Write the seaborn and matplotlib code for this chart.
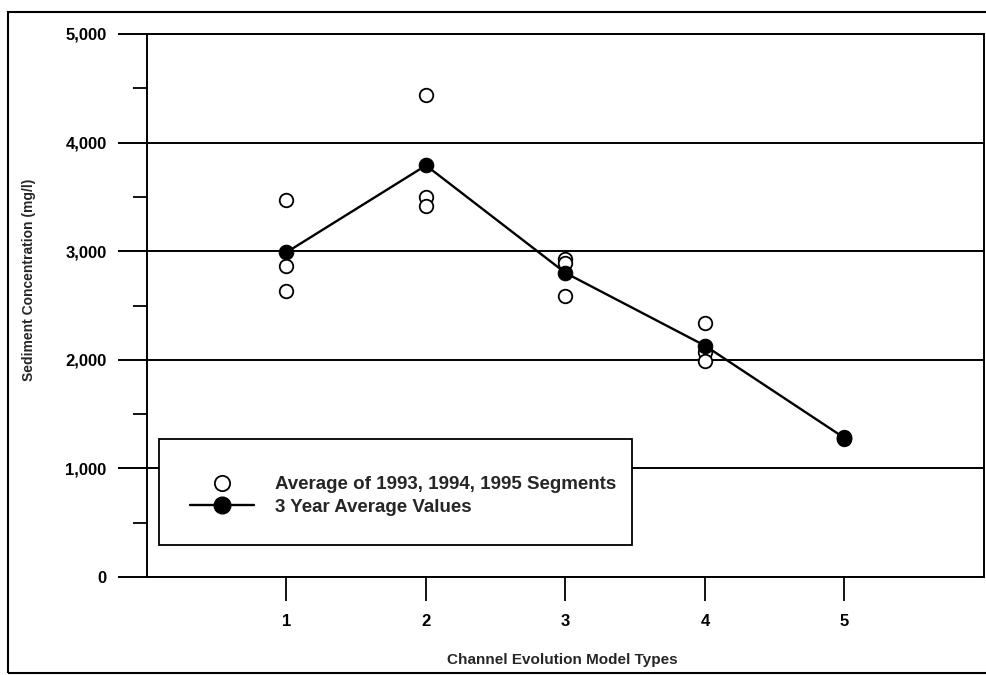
import matplotlib
matplotlib.use("Agg")
import matplotlib.pyplot as plt
import pandas as pd
import seaborn as sns
from matplotlib.ticker import MultipleLocator, FuncFormatter, FixedLocator
from matplotlib.lines import Line2D
from matplotlib.patches import Rectangle

# Channel Evolution Model types and sediment concentrations (mg/l)
cem_types = [1, 2, 3, 4, 5]
seg_high = [3470, 4440, 2930, 2340, 1290]
seg_mid = [2860, 3500, 2890, 2070, 1280]
seg_low = [2630, 3420, 2590, 1990, 1270]
three_year_avg = [2990, 3790, 2800, 2130, 1280]

y_ticks = [0, 1000, 2000, 3000, 4000, 5000]
legend_labels = ["Average of 1993, 1994, 1995 Segments", "3 Year Average Values"]

seg_df = pd.DataFrame({
    "type": cem_types * 3,
    "conc": seg_high + seg_mid + seg_low,
})
avg_df = pd.DataFrame({"type": cem_types, "conc": three_year_avg})

sns.set_style("white")
plt.rcParams["font.family"] = ["Liberation Sans", "DejaVu Sans"]
plt.rcParams["font.weight"] = "bold"

W, H = 987, 675
fig = plt.figure(figsize=(W / 100, H / 100), dpi=100)
fig.patch.set_facecolor("white")

ax_l, ax_r, ax_t, ax_b = 147, 984, 34, 577
ax = fig.add_axes([ax_l / W, 1 - ax_b / H, (ax_r - ax_l) / W, (ax_b - ax_t) / H])
ax.set_facecolor("white")

# horizontal grid at every 1,000 mg/l
ax.yaxis.grid(True, color="black", linewidth=1.4)
ax.xaxis.grid(False)
ax.set_axisbelow(True)

sns.scatterplot(data=seg_df, x="type", y="conc", ax=ax, s=95, marker="o",
                color="white", edgecolor="black", linewidth=1.3,
                legend=False, zorder=3)
sns.lineplot(data=avg_df, x="type", y="conc", ax=ax, color="black",
             linewidth=1.7, marker="o", markersize=10.5,
             markerfacecolor="black", markeredgecolor="black",
             legend=False, zorder=4)

ax.set_xlim(0, 6)
ax.set_ylim(0, 5000)
ax.xaxis.set_major_locator(FixedLocator(cem_types))
ax.yaxis.set_major_locator(FixedLocator(y_ticks))
ax.yaxis.set_minor_locator(MultipleLocator(500))
ax.yaxis.set_major_formatter(FuncFormatter(lambda v, p: f"{int(v):,}"))

ax.tick_params(axis="y", which="major", direction="out", length=21, width=1.4,
               pad=8, labelsize=12, colors="black", left=True)
ax.tick_params(axis="y", which="minor", direction="out", length=10, width=1.3,
               colors="black", left=True)
ax.tick_params(axis="x", which="major", direction="out", length=17, width=1.3,
               pad=10, labelsize=12, colors="black", bottom=True)
for lbl in ax.get_xticklabels() + ax.get_yticklabels():
    lbl.set_fontweight("bold")

for side in ["left", "right", "top", "bottom"]:
    ax.spines[side].set_visible(True)
    ax.spines[side].set_color("black")
    ax.spines[side].set_linewidth(1.4)

ax.set_xlabel("")
ax.set_ylabel("")
fig.text(562 / W, 1 - 660 / H, "Channel Evolution Model Types",
         ha="center", va="center", fontsize=11, fontweight="bold")
fig.text(29 / W, 1 - 280 / H, "Sediment Concentration (mg/l)",
         ha="center", va="center", rotation=90, fontsize=10, fontweight="bold")

# legend box
lg_l, lg_r, lg_t, lg_b = 159, 632, 439, 545
fig.add_artist(Rectangle((lg_l / W, 1 - lg_b / H), (lg_r - lg_l) / W,
                         (lg_b - lg_t) / H, transform=fig.transFigure,
                         facecolor="white", edgecolor="black", linewidth=1.3,
                         zorder=2))
handles = [
    Line2D([], [], linestyle="none", marker="o", markersize=11,
           markerfacecolor="white", markeredgecolor="black", markeredgewidth=1.3),
    Line2D([], [], color="black", linewidth=1.7, marker="o", markersize=12,
           markerfacecolor="black", markeredgecolor="black"),
]
leg = fig.legend(handles, legend_labels, loc="center left",
                 bbox_to_anchor=(190 / W, 1 - 496 / H), frameon=False,
                 borderpad=0, borderaxespad=0, handlelength=3.4,
                 handletextpad=1.15, labelspacing=0.3,
                 prop={"size": 13.5, "weight": "bold"})
leg.set_zorder(3)

# outer frame of the figure
fig.add_artist(Rectangle((8 / W, 1 - 673 / H), (995 - 8) / W, (673 - 12) / H,
                         transform=fig.transFigure, fill=False,
                         edgecolor="black", linewidth=1.5, zorder=1))

fig.savefig("out.png", dpi=100, facecolor="white")
